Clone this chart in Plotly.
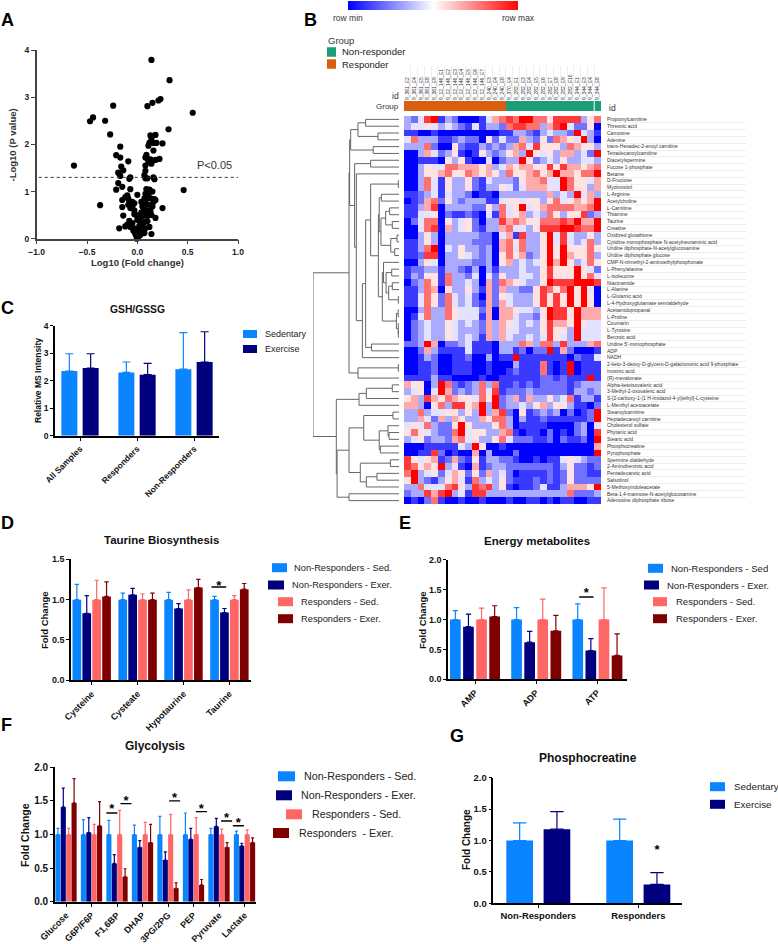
"""Multi-panel metabolomics figure: volcano, clustered heatmap, bar panels."""
import plotly.graph_objects as go

W, H = 778, 944
FONT = "Liberation Sans"
SKY, NAVY, PINK, MAROON = "#0a84ff", "#00007f", "#ff6666", "#7f0000"

# panel A
VOLCANO_X = [0.14, 0.32, 0.55, -0.24, 0.1, 0.15, 0.21, 0.23, -0.44, -0.47, -0.32, 0.31, -0.27, 0.18, 0.13, 0.14, 0.12,
             0.16, 0.19, 0.25, 0.11, -0.17, 0.16, 0.09, -0.21, -0.17, 0.08, 0.1, 0.13, 0.18, 0.22, 0.11, 0.14, -0.09,
             -0.63, 0.08, -0.16, -0.14, 0.08, -0.19, -0.17, 0.07, 0.08, 0.1, 0.16, 0.17, -0.07, -0.08, -0.19, -0.15,
             -0.21, -0.07, 0.46, 0.09, 0.1, 0.12, 0.13, 0.15, 0.08, 0.11, -0.1, 0.0, -0.12, -0.09, -0.15, 0.17, 0.18,
             0.07, 0.1, 0.14, 0.16, -0.08, -0.05, -0.03, -0.09, -0.37, 0.04, 0.08, 0.11, 0.15, 0.25, -0.15, -0.07,
             -0.05, -0.03, 0.05, 0.07, 0.1, 0.13, 0.04, 0.07, -0.14, -0.01, -0.03, 0.03, 0.05, 0.1, 0.14, 0.18, -0.08,
             -0.05, 0.0, 0.02, 0.04, 0.07, 0.1, -0.1, -0.12, -0.07, -0.03, -0.18, 0.02, 0.05, 0.08, 0.12, -0.04, -0.01,
             0.02, 0.05, 0.07, 0.14, -0.02, 0.0, 0.03, -0.01, 0.01, 0.0, -0.005]
VOLCANO_Y = [3.79, 3.36, 2.67, 2.82, 2.81, 2.88, 2.93, 2.96, 2.57, 2.49, 2.5, 2.32, 2.21, 2.2, 2.19, 2.12, 2.03,
             2.03, 2.03, 2.02, 1.97, 1.95, 1.87, 1.78, 1.77, 1.72, 1.72, 1.7, 1.68, 1.67, 1.69, 1.62, 1.59, 1.64,
             1.55, 1.55, 1.53, 1.45, 1.44, 1.4, 1.33, 1.35, 1.28, 1.28, 1.3, 1.26, 1.3, 1.27, 1.18, 1.1,
             1.04, 1.05, 1.03, 1.05, 1.02, 1.04, 1.0, 1.0, 0.95, 0.93, 0.92, 0.93, 0.88, 0.85, 0.82, 0.84, 0.82,
             0.85, 0.85, 0.85, 0.78, 0.78, 0.78, 0.75, 0.72, 0.71, 0.78, 0.75, 0.72, 0.68, 0.65, 0.67, 0.65,
             0.68, 0.6, 0.68, 0.62, 0.6, 0.58, 0.56, 0.52, 0.49, 0.5, 0.52, 0.5, 0.47, 0.48, 0.5, 0.44, 0.38,
             0.33, 0.4, 0.38, 0.33, 0.35, 0.37, 0.3, 0.26, 0.25, 0.22, 0.22, 0.27, 0.25, 0.22, 0.25, 0.17, 0.18,
             0.15, 0.15, 0.12, 0.1, 0.1, 0.1, 0.08, 0.06, 0.04, 0.02, 0.0]
P_CUTOFF = 1.3

# panel B
COLUMN_IDS = ["9_361_E2", "9_361_E4", "9_361_E5", "9_361_E8", "9_361_E9", "9_12_146_E1", "9_12_146_E2", "9_12_146_E3",
              "9_12_146_E4", "9_12_146_E5", "9_12_146_E6", "9_12_146_E7", "9_240_E3", "9_240_E4", "9_240_E8",
              "9_370_E4", "9_282_E1", "9_282_E3", "9_282_E4", "9_282_E5", "9_282_E6", "9_282_E7", "9_282_E8",
              "9_282_E9", "9_282_E10", "9_344_E1", "9_344_E3", "9_344_E4", "9_344_E8"]
# 1 = responder, 0 = non-responder
COLUMN_GROUPS = [1] * 15 + [0] * 14
ROW_NAMES = ["Propionylcarnitine", "Threonic acid", "Carnosine", "Adenine", "trans-Hexadec-2-enoyl carnitine",
             "Tetradecanoylcarnitine", "Diacetylspermine", "Fucose 1-phosphate", "Betaine", "D-Fructose",
             "Myoinositol", "L-Arginine", "Acetylcholine", "L-Carnitine", "Thiamine", "Taurine", "Creatine",
             "Oxidized glutathione", "Cytidine monophosphate N-acetylneuraminic acid",
             "Uridine diphosphate-N-acetylglucosamine", "Uridine diphosphate glucose",
             "CMP-N-trimethyl-2-aminoethylphosphonate", "L-Phenylalanine", "L-Isoleucine", "Niacinamide", "L-Alanine",
             "L-Glutamic acid", "L-4-Hydroxyglutamate semialdehyde", "Acetamidopropanal", "L-Proline", "Coumarin",
             "L-Tyrosine", "Benzoic acid", "Uridine 5'-monophosphate", "ADP", "NADH",
             "2-keto-3-deoxy-D-glycero-D-galactononic acid 9-phosphate", "Inosinic acid", "(R)-mevalonate",
             "Alpha-ketoisovaleric acid", "3-Methyl-2-oxovaleric acid",
             "S-[2-carboxy-1-(1 H-imidazol-4-yl)ethyl]-L-cysteine", "L-Menthyl acetoacetate", "Stearoylcarnitine",
             "Heptadecanoyl carnitine", "Cholesterol sulfate", "Phytanic acid", "Stearic acid", "Phosphocreatine",
             "Pyrophosphate", "Spermine dialdehyde", "2-Aminobenzoic acid", "Pentadecanoic acid", "Salsolinol",
             "5-Methoxyindoleacetate", "Beta-1,4-mannose-N-acetylglucosamine", "Adenosine diphosphate ribose"]
# colour level read per cell, 0 = row min (blue) ... 9 = row max (red)
HEAT_ROWS = [
    "32489132000146787997758888357",
    "34454343214133278877368942250",
    "11001000000000113321343329431",
    "47333112322052422632527654930",
    "33372005211323236748555376553",
    "00364235101532356395453663429",
    "00111053510040233952343533443",
    "00354477666563465665585866567",
    "00355675576565375567569665779",
    "00374153352143332566744975546",
    "00374153352133542466644975536",
    "11234143320110333333363439463",
    "01267253233311455455357456569",
    "11368033332253745945677776679",
    "11445021121041745634375355823",
    "02477053452033867655777879669",
    "00478063452133674435888998779",
    "00353033333220461833594843353",
    "11353033332220675733594843473",
    "11379043533230674733595955575",
    "11288033543230575623595965573",
    "00354033332230563434596953475",
    "12233133213031333433585559542",
    "13255173324042533443585559574",
    "02375173343062765433598889998",
    "11376053353162633225875795940",
    "11475274342062543335858595950",
    "11475274342162643335858595950",
    "00373375444260665443598859666",
    "01473375444160664332598859666",
    "02343354343263654343586659544",
    "02343354333263644333585539444",
    "02343354343163643343485439444",
    "22396022341110333763773833367",
    "00263111141110331202291620001",
    "00132001120030119111111102114",
    "00112001110010003111710190111",
    "00112001110010012111710190111",
    "11113110000100111111221211191",
    "65503972123737112121222212333",
    "34504962323748122232222213323",
    "56386576554759236263353471331",
    "66305738856939233435635531102",
    "33734455353936820512323020129",
    "33642636533657730311211111129",
    "45473225953335730111100002304",
    "57543227945533671011020102308",
    "34523326745335742221120211209",
    "00011111439500100000000000006",
    "00118201006030002000000000009",
    "85456126215133221001011454322",
    "87565934106123322222221352212",
    "79345246525263420111121252211",
    "59321356417343521112121252222",
    "33744478538783510112411366659",
    "23386893418833333333333372223",
    "01027100100100010011010110011",
]
COLOR_RAMP = [0, 1, 2, 3, 4, 5, 6, 7, 8, 9]
# dendrogram: (merge distance, left, right); ints are 1-based row numbers
TREE_TOP_A = (56.2, (47.7, (38.8, 1, 2), (24.4, 3, 4)), (30, 5, 6))
TREE_SUB1 = (23, (20.5, 12, 13), (21, (15.5, (10.9, 14, 15), (7.8, 16, 17)),
                                  (9.6, (2.3, 18, 19), (5, 20, 21))))
TREE_SUB2 = (19.4, (18, 22, (15, (8.5, 23, 24), (12, (7.8, 25, 26), (0.8, 27, 28)))),
             (3, (1, 29, 30), (0.8, 31, (0.8, 32, 33))))
TREE_CORE = (42.6, (38.8, (33, (0.8, 10, 11), (24, TREE_SUB1, TREE_SUB2)), (32, 34, 35)), 36)
TREE_TOP_B = (51.6, (33, 7, 8), (49.6, 9, TREE_CORE))
TREE_UPPER = (58.1, (57.4, TREE_TOP_A, TREE_TOP_B), (47.7, (0.8, 37, 38), 39))
TREE_F = (46.5, (38, (7.8, 40, 41), 42), 43)
TREE_G = (41, (7, 44, 45), (23, (12.8, 46, (11.6, 47, 48)), (21.7, 49, 50)))
TREE_H = (45, (10, 51, 52), (38, (25.6, 53, 54), 55))
TREE_LOWER = (72.9, TREE_F, (72, (58.1, TREE_G, TREE_H), (58.1, 56, 57)))
TREE_ROOT = (100, TREE_UPPER, TREE_LOWER)

# panel C
C_CATS = ["All Samples", "Responders", "Non-Responders"]
C_SED = [2.35, 2.3, 2.42]
C_SED_ERR = [0.63, 0.38, 1.33]
C_EX = [2.46, 2.22, 2.68]
C_EX_ERR = [0.52, 0.41, 1.10]

# panel D
D_CATS = ["Cysteine", "Cysteate", "Hypotaurine", "Taurine"]
D_NR_SED = [1, 1, 1, 1]
D_NR_SED_ERR = [0.19, 0.08, 0.09, 0.04]
D_NR_EX = [0.83, 1.06, 0.89, 0.84]
D_NR_EX_ERR = [0.22, 0.08, 0.06, 0.05]
D_R_SED = [1, 1, 1, 1]
D_R_SED_ERR = [0.24, 0.07, 0.12, 0.05]
D_R_EX = [1.04, 1.0, 1.15, 1.13]
D_R_EX_ERR = [0.18, 0.08, 0.10, 0.07]

# panel E
E_CATS = ["AMP", "ADP", "ATP"]
E_NR_SED = [1, 1, 1]
E_NR_SED_ERR = [0.15, 0.2, 0.26]
E_NR_EX = [0.88, 0.62, 0.48]
E_NR_EX_ERR = [0.21, 0.18, 0.20]
E_R_SED = [1, 1, 1]
E_R_SED_ERR = [0.19, 0.34, 0.53]
E_R_EX = [1.05, 0.81, 0.40]
E_R_EX_ERR = [0.18, 0.26, 0.36]

# panel F
F_CATS = ["Glucose", "G6P/F6P", "F1,6BP", "DHAP", "3PG/2PG", "PEP", "Pyruvate", "Lactate"]
F_NR_SED = [1, 1, 1, 1, 1, 1, 1, 1]
F_NR_SED_ERR = [0.09, 0.22, 0.21, 0.14, 0.27, 0.32, 0.09, 0.05]
F_NR_EX = [1.41, 1.03, 0.57, 0.81, 0.62, 0.93, 1.12, 0.83]
F_NR_EX_ERR = [0.28, 0.22, 0.13, 0.10, 0.12, 0.16, 0.12, 0.04]
F_R_SED = [1, 1, 1, 1, 1, 1, 1, 1]
F_R_SED_ERR = [0.09, 0.15, 0.36, 0.18, 0.30, 0.25, 0.08, 0.07]
F_R_EX = [1.47, 1.13, 0.37, 0.88, 0.20, 0.25, 0.81, 0.88]
F_R_EX_ERR = [0.36, 0.36, 0.12, 0.27, 0.08, 0.08, 0.07, 0.07]

# panel G
G_CATS = ["Non-Responders", "Responders"]
G_SED = [1, 1]
G_SED_ERR = [0.28, 0.34]
G_EX = [1.18, 0.30]
G_EX_ERR = [0.28, 0.19]

# significance marks: centre on the category scale, half width, bar height, star height
D_SIG = [(2.77, 0.16, 1.157, 1.16)]
E_SIG = [(1.82, 0.117, 1.376, 1.43)]
F_SIG = [(1.80, 0.216, 1.32, 1.365), (2.35, 0.216, 1.46, 1.494), (4.26, 0.216, 1.50, 1.533),
         (5.31, 0.216, 1.34, 1.37), (6.30, 0.216, 1.20, 1.24), (6.76, 0.216, 1.13, 1.156)]
G_STAR = (1.187, 0.838)

LETTERS = {"A": (7, 20), "B": (310, 20), "C": (7, 308), "D": (7, 523), "E": (405, 523), "F": (6, 725), "G": (457, 736)}


def dom_x(a, b):
    return [a / W, b / W]


def dom_y(top, bottom):
    return [1 - bottom / H, 1 - top / H]


fig = go.Figure()
layout = {}
annotations = []
shapes = []
HEAT_SCALE = [[0, "#0000ff"], [0.5, "#ffffff"], [1, "#ff0000"]]


def txt(x, y, text, size, bold=False, color="#111", anchor="center", angle=0):
    annotations.append(dict(x=x / W, y=1 - y / H, xref="paper", yref="paper", text=text, showarrow=False,
                            font=dict(family=FONT, size=size, color=color, weight="bold" if bold else "normal"),
                            xanchor=anchor, yanchor="middle", textangle=angle))


def swatch(x0, x1, yc, h, color):
    shapes.append(dict(type="rect", xref="paper", yref="paper", x0=x0 / W, x1=x1 / W, y0=1 - (yc - h / 2) / H,
                       y1=1 - (yc + h / 2) / H, fillcolor=color, line=dict(width=0)))


def bar_panel(n, cats, series, left, right, top, bottom, ymax, dtick, first, pitch, bar_px, step_px, tick_size,
              cat_size=None, angle=-45, line_w=1.6):
    for i, (vals, errs, color) in enumerate(series):
        center = (i - (len(series) - 1) / 2) * step_px / pitch
        width = bar_px / pitch
        fig.add_trace(go.Bar(x=list(range(len(cats))), y=vals, width=width, offset=center - width / 2,
                             marker=dict(color=color, line=dict(width=0)),
                             error_y=dict(type="data", array=errs, arrayminus=[0] * len(errs), symmetric=False,
                                          color=color, thickness=1.2, width=max(1.5, bar_px / 4)),
                             xaxis=f"x{n}", yaxis=f"y{n}"))
    layout[f"xaxis{n}"] = dict(domain=dom_x(left, right), anchor=f"y{n}", range=[(left - first) / pitch,
                                                                                 (right - first) / pitch],
                               tickmode="array", tickvals=list(range(len(cats))), ticktext=cats, tickangle=angle,
                               tickfont=dict(family=FONT, size=cat_size or tick_size, color="#111", weight="bold"),
                               showline=True, linecolor="#000", linewidth=line_w, ticks="outside", ticklen=3,
                               tickwidth=1.2, tickcolor="#000", showgrid=False, zeroline=False)
    layout[f"yaxis{n}"] = dict(domain=dom_y(top, bottom), anchor=f"x{n}", range=[0, ymax], dtick=dtick,
                               tickformat=".1f" if dtick < 1 else "d",
                               tickfont=dict(family=FONT, size=tick_size, color="#111", weight="bold"),
                               showline=True, linecolor="#000", linewidth=line_w, ticks="outside", ticklen=3,
                               tickwidth=1.2, tickcolor="#000", showgrid=False, zeroline=False)


def star(n, x, y):
    fig.add_trace(go.Scatter(x=[x], y=[y], mode="text", text=["*"], textposition="middle center",
                             textfont=dict(family=FONT, size=13, color="#000", weight="bold"),
                             xaxis=f"x{n}", yaxis=f"y{n}"))


def sig_marks(n, marks):
    for center, half, bar_y, star_y in marks:
        fig.add_trace(go.Scatter(x=[center - half, center + half], y=[bar_y, bar_y], mode="lines",
                                 line=dict(color="#000", width=1.4), xaxis=f"x{n}", yaxis=f"y{n}"))
        star(n, center, star_y)


def legend(rows, size):
    for sx0, sx1, yc, h, color, tx, label in rows:
        swatch(sx0, sx1, yc, h, color)
        txt(tx, yc, label, size, color="#222", anchor="left")


# A: volcano
fig.add_trace(go.Scatter(x=VOLCANO_X, y=VOLCANO_Y, mode="markers", marker=dict(color="#000", size=6.2),
                         cliponaxis=False, xaxis="x1", yaxis="y1"))
fig.add_trace(go.Scatter(x=[-0.98, 1.0], y=[P_CUTOFF, P_CUTOFF], mode="lines",
                         line=dict(color="#333", width=1, dash="dot"), xaxis="x1", yaxis="y1"))
axis_a = dict(showline=True, linecolor="#444", linewidth=1.5, ticks="outside", ticklen=4, tickwidth=1.2,
              tickcolor="#444", showgrid=False, zeroline=False,
              tickfont=dict(family=FONT, size=8.5, color="#222", weight="bold"))
layout["xaxis1"] = dict(domain=dom_x(36.7, 238), anchor="y1", range=[-1, 1], dtick=0.5, tickformat=".1f", **axis_a)
layout["yaxis1"] = dict(domain=dom_y(50, 238.7), anchor="x1", range=[0, 4], dtick=1, **axis_a)
txt(12.5, 145, "-Log10 (P value)", 9.5, bold=True, color="#333", angle=-90)
txt(137, 262, "Log10 (Fold change)", 9.5, bold=True, color="#333")
txt(214, 165, "P&lt;0.05", 11, color="#333")

# B: heatmap
heat = [[int(c) for c in row] for row in HEAT_ROWS]
n_rows, n_cols = len(ROW_NAMES), len(COLUMN_IDS)
fig.add_trace(go.Heatmap(z=heat, x=list(range(n_cols)), y=list(range(n_rows)), zmin=0, zmax=9, showscale=False,
                         colorscale=HEAT_SCALE, hoverinfo="skip", xaxis="x2", yaxis="y2"))
layout["xaxis2"] = dict(domain=dom_x(404, 601), anchor="y2", range=[-0.5, n_cols - 0.5], showticklabels=False,
                        ticks="", showgrid=False, zeroline=False)
layout["yaxis2"] = dict(domain=dom_y(116, 504), anchor="x2", range=[n_rows - 0.5, -0.5], side="right",
                        tickmode="array", tickvals=list(range(n_rows)), ticktext=ROW_NAMES, ticks="",
                        ticklabelstandoff=5, tickfont=dict(family=FONT, size=5, color="#333"),
                        showgrid=False, zeroline=False)

# B: row min / row max gradient
fig.add_trace(go.Heatmap(z=[COLOR_RAMP], zmin=0, zmax=9, showscale=False, zsmooth="best", colorscale=HEAT_SCALE,
                         hoverinfo="skip", xaxis="x12", yaxis="y12"))
layout["xaxis12"] = dict(domain=dom_x(348, 518), anchor="y12", visible=False, range=[0, 9])
layout["yaxis12"] = dict(domain=dom_y(1, 10), anchor="x12", visible=False)

# B: group bar with column ids on top
fig.add_trace(go.Heatmap(z=[COLUMN_GROUPS], x=list(range(n_cols)), y=["Group"], zmin=0, zmax=1, showscale=False,
                         colorscale=[[0, "#1b9e77"], [1, "#d95f0e"]], hoverinfo="skip", xaxis="x3", yaxis="y3"))
layout["xaxis3"] = dict(domain=dom_x(404, 601), anchor="y3", range=[-0.5, n_cols - 0.5], side="top",
                        tickmode="array", tickvals=list(range(n_cols)), ticktext=COLUMN_IDS, tickangle=-90,
                        ticks="", tickfont=dict(family=FONT, size=5, color="#333"), showgrid=False, zeroline=False)
layout["yaxis3"] = dict(domain=dom_y(101, 111), anchor="x3", showticklabels=False, ticks="", showgrid=False,
                        zeroline=False)
shapes.append(dict(type="line", xref="x3", yref="y3 domain", x0=n_cols - 1.5, x1=n_cols - 1.5, y0=0, y1=1,
                   line=dict(color="#fff", width=1)))

# B: dendrogram
tree_x, tree_y = [], []


def walk(node):
    """Returns (row position, merge distance) of the node and stores its elbow."""
    if isinstance(node, int):
        return node - 1, 0
    dist, left, right = node
    y_l, d_l = walk(left)
    y_r, d_r = walk(right)
    tree_x.extend([d_l, dist, dist, d_r, None])
    tree_y.extend([y_l, y_l, y_r, y_r, None])
    return (y_l + y_r) / 2, dist


walk(TREE_ROOT)
fig.add_trace(go.Scatter(x=tree_x, y=tree_y, mode="lines", line=dict(color="#666", width=1), xaxis="x4", yaxis="y4"))
layout["xaxis4"] = dict(domain=dom_x(313, 399), anchor="y4", range=[100, 0], visible=False)
layout["yaxis4"] = dict(domain=dom_y(116, 504), anchor="x4", range=[n_rows - 0.5, -0.5], visible=False)

# B: faint separators next to the labels
fig.add_trace(go.Scatter(x=[None], y=[None], xaxis="x5", yaxis="y5"))
layout["xaxis5"] = dict(domain=dom_x(606, 746), anchor="y5", range=[0, 1], visible=False)
layout["yaxis5"] = dict(domain=dom_y(116, 504), anchor="x5", range=[n_rows - 0.5, -0.5], tickmode="array",
                        tickvals=[i + 0.5 for i in range(n_rows)], showticklabels=False, ticks="", showgrid=True,
                        gridcolor="#eeeeee", gridwidth=0.6, zeroline=False)
fig.add_trace(go.Scatter(x=[None], y=[None], xaxis="x6", yaxis="y6"))
layout["xaxis6"] = dict(domain=dom_x(404, 601), anchor="y6", range=[-0.5, n_cols - 0.5], tickmode="array",
                        tickvals=[i + 0.5 for i in range(n_cols)], showticklabels=False, ticks="", showgrid=True,
                        gridcolor="#eeeeee", gridwidth=0.6, zeroline=False)
layout["yaxis6"] = dict(domain=dom_y(66, 100), anchor="x6", range=[0, 1], visible=False)

txt(348, 18, "row min", 8.5, color="#333")
txt(518, 18, "row max", 8.5, color="#333")
txt(326, 40, "Group", 9.5, color="#333", anchor="left")
legend([(327, 336, 52, 9.5, "#1b9e77", 340, "Non-responder"), (327, 336, 64, 9.5, "#d95f0e", 340, "Responder")], 9.5)
txt(401, 96, "id", 8.5, color="#333", anchor="right")
txt(401, 106, "Group", 8, color="#333", anchor="right")
txt(607, 108, "id", 8.5, color="#333", anchor="left")

# C
bar_panel(7, C_CATS, [(C_SED, C_SED_ERR, SKY), (C_EX, C_EX_ERR, NAVY)], 55, 219, 325.7, 435.7, 4, 1, 80, 57, 16,
          21.3, 8.5)
txt(137, 309, "GSH/GSSG", 10.3, bold=True)
txt(38, 381, "Relative MS Intensity", 8.5, bold=True, angle=-90)
legend([(243, 257, 334, 8, SKY, 263, "Sedentary"), (243, 257, 349, 8, NAVY, 263, "Exercise")], 9)

# D
bar_panel(8, D_CATS, [(D_NR_SED, D_NR_SED_ERR, SKY), (D_NR_EX, D_NR_EX_ERR, NAVY), (D_R_SED, D_R_SED_ERR, PINK),
                      (D_R_EX, D_R_EX_ERR, MAROON)], 71, 251, 559.3, 680.3, 1.5, 0.5, 91.7, 45.9, 8.7, 9.9, 9)
sig_marks(8, D_SIG)
txt(161, 540, "Taurine Biosynthesis", 11.5, bold=True)
txt(44, 620, "Fold Change", 9.5, bold=True, angle=-90)
legend([(272, 287, 567.7, 9, SKY, 292, "Non-Responders - Sed."), (268, 284, 585, 9, NAVY, 290, "Non-Responders - Exer."),
        (278, 293, 601.7, 9, PINK, 299, "Responders - Sed."), (278, 293, 618.7, 9, MAROON, 299, "Responders - Exer.")],
       9.3)

# E
bar_panel(9, E_CATS, [(E_NR_SED, E_NR_SED_ERR, SKY), (E_NR_EX, E_NR_EX_ERR, NAVY), (E_R_SED, E_R_SED_ERR, PINK),
                      (E_R_EX, E_R_EX_ERR, MAROON)], 448, 626.7, 559.7, 679.3, 2, 0.5, 475, 61.2, 10.7, 13.1, 9)
sig_marks(9, E_SIG)
txt(537.3, 541, "Energy metabolites", 11.5, bold=True)
txt(422, 620, "Fold Change", 9.5, bold=True, angle=-90)
legend([(648, 663, 568.3, 9, SKY, 669, "Non-Responders - Sed"), (644, 659, 585, 9, NAVY, 665, "Non-Responders - Exer."),
        (653, 667, 601.7, 9, PINK, 674, "Responders - Sed."), (653, 667, 618.7, 9, MAROON, 674, "Responders - Exer.")],
       9.5)

# F
bar_panel(10, F_CATS, [(F_NR_SED, F_NR_SED_ERR, SKY), (F_NR_EX, F_NR_EX_ERR, NAVY), (F_R_SED, F_R_SED_ERR, PINK),
                       (F_R_EX, F_R_EX_ERR, MAROON)], 55, 256, 767.3, 901.7, 2, 0.5, 66, 25.5, 5.1, 5.4, 10,
          cat_size=9)
sig_marks(10, F_SIG)
txt(155, 745.7, "Glycolysis", 12, bold=True)
txt(25, 835, "Fold Change", 10.5, bold=True, angle=-90)
legend([(278, 295, 776.3, 10, SKY, 302, "Non-Responders - Sed."), (276, 292, 795.3, 10, NAVY, 299, "Non-Responders - Exer."),
        (286, 302, 814.3, 10, PINK, 310, "Responders - Sed."), (273, 289, 833, 10, MAROON, 297, "Responders  - Exer.")],
       10.7)

# G
bar_panel(11, G_CATS, [(G_SED, G_SED_ERR, SKY), (G_EX, G_EX_ERR, NAVY)], 493.3, 682.3, 777.7, 903.3, 2, 0.5, 538.3,
          100, 26.7, 37.3, 9.4, angle=0)
star(11, G_STAR[0], G_STAR[1])
txt(588, 757.7, "Phosphocreatine", 12, bold=True)
txt(466, 840, "Fold Change", 10, bold=True, angle=-90)
legend([(710, 725, 786.7, 9, SKY, 732, "Sedentary"), (710, 725, 804.3, 9, NAVY, 732, "Exercise")], 9.8)

for letter, (lx, ly) in LETTERS.items():
    txt(lx, ly, letter, 18, bold=True, color="#000")

# the default template turns axis automargin on, which would shift every pixel-placed panel
fig.update_layout(width=W, height=H, margin=dict(l=0, r=0, t=0, b=0, autoexpand=False), paper_bgcolor="#fff",
                  plot_bgcolor="rgba(0,0,0,0)", showlegend=False, barmode="overlay", annotations=annotations,
                  shapes=shapes, font=dict(family=FONT), **layout)
# the page's default body margin would push the figure 8 px off the window
fig.write_html("out.html", config={"displayModeBar": False}, post_script="document.body.style.margin = '0';")
